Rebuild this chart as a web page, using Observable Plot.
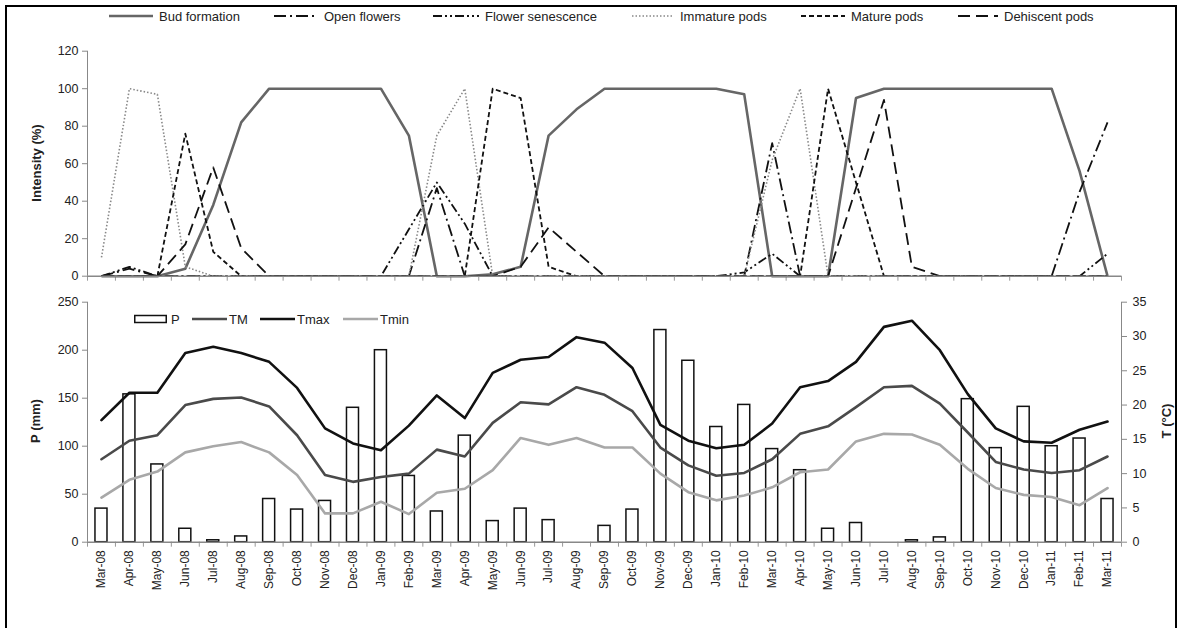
<!DOCTYPE html>
<html>
<head>
<meta charset="utf-8">
<script src="https://cdn.jsdelivr.net/npm/d3@7"></script>
<script src="https://cdn.jsdelivr.net/npm/@observablehq/plot@0.6"></script>
<style>
  html, body { margin: 0; padding: 0; background: #fff; }
  #wrap { position: relative; width: 1182px; height: 628px; overflow: hidden; font-family: "Liberation Sans", Arial, sans-serif; color: #222; }
  #frame { position: absolute; left: 5px; top: 5px; width: 1172px; height: 640px; border: 2px solid #000; box-sizing: border-box; }
  .abs { position: absolute; }
  .ytitle { position: absolute; font-weight: bold; font-size: 13px; white-space: nowrap; transform: translate(-50%, -50%) rotate(-90deg); }
  .leg { position: absolute; display: flex; align-items: center; font-size: 13px; white-space: nowrap; }
  svg { overflow: visible; }
</style>
</head>
<body>
<div id="wrap">
  <div id="frame"></div>
</div>
<script>
// ---------- data ----------
const months = ["Mar-08","Apr-08","May-08","Jun-08","Jul-08","Aug-08","Sep-08","Oct-08","Nov-08","Dec-08","Jan-09","Feb-09","Mar-09","Apr-09","May-09","Jun-09","Jul-09","Aug-09","Sep-09","Oct-09","Nov-09","Dec-09","Jan-10","Feb-10","Mar-10","Apr-10","May-10","Jun-10","Jul-10","Aug-10","Sep-10","Oct-10","Nov-10","Dec-10","Jan-11","Feb-11","Mar-11"];

// Phenology intensity (%)
const budFormation      = [0,0,0,4,38,82,100,100,100,100,100,75,0,0,1,5,75,89,100,100,100,100,100,97,0,0,0,95,100,100,100,100,100,100,100,56,0];
const openFlowers       = [0,4,0,0,0,0,0,0,0,0,0,0,47,0,0,0,0,0,0,0,0,0,0,0,71,0,0,0,0,0,0,0,0,0,0,45,82];
const flowerSenescence  = [0,5,0,0,0,0,0,0,0,0,0,25,50,28,0,0,0,0,0,0,0,0,0,2,12,0,0,0,0,0,0,0,0,0,0,0,12];
const immaturePods      = [10,100,97,5,0,0,0,0,0,0,0,0,75,100,0,0,0,0,0,0,0,0,0,0,62,100,0,0,0,0,0,0,0,0,0,0,0];
const maturePods        = [0,0,0,76,13,0,0,0,0,0,0,0,0,0,100,95,5,0,0,0,0,0,0,0,0,0,100,50,0,0,0,0,0,0,0,0,0];
const dehiscentPods     = [0,0,0,17,58,15,0,0,0,0,0,0,0,0,0,5,26,13,0,0,0,0,0,0,0,0,0,47,94,5,0,0,0,0,0,0,0];

// Climate
const precip = [35,154,81,14,2,6,45,34,43,140,200,69,32,111,22,35,23,0,17,34,221,189,120,143,97,75,14,20,0,2,5,149,98,141,100,108,45];
const tMean  = [12.1,14.8,15.6,20.0,20.9,21.1,19.8,15.6,9.8,8.8,9.5,10.0,13.5,12.5,17.4,20.4,20.1,22.6,21.5,19.1,13.8,11.2,9.7,10.1,12.1,15.8,16.9,19.7,22.6,22.8,20.2,16.0,11.7,10.6,10.1,10.5,12.5];
const tMax   = [17.8,21.8,21.8,27.6,28.5,27.6,26.3,22.5,16.6,14.4,13.4,17.0,21.4,18.1,24.7,26.6,27.0,29.9,29.1,25.4,17.1,14.8,13.7,14.2,17.3,22.6,23.5,26.3,31.4,32.3,28.0,21.6,16.6,14.7,14.5,16.4,17.6];
const tMin   = [6.5,9.1,10.3,13.1,14.0,14.6,13.1,9.8,4.2,4.2,5.9,4.1,7.2,7.8,10.5,15.2,14.2,15.2,13.8,13.8,10.0,7.3,6.1,6.8,8.0,10.2,10.6,14.7,15.8,15.7,14.2,10.7,7.9,6.9,6.6,5.4,7.9];

const intensityTicks = [0,20,40,60,80,100,120];
const pTicks = [0,50,100,150,200,250];
const tTicks = [0,5,10,15,20,25,30,35];

// ---------- styles ----------
const phen = [
  {name: "Bud formation",     data: budFormation,     stroke: "#666", width: 2.6, dash: null},
  {name: "Open flowers",      data: openFlowers,      stroke: "#111", width: 1.8, dash: "12,4,2,4"},
  {name: "Flower senescence", data: flowerSenescence, stroke: "#111", width: 1.8, dash: "9,3,2,3,2,3"},
  {name: "Immature pods",     data: immaturePods,     stroke: "#888", width: 1.6, dash: "1.5,2"},
  {name: "Mature pods",       data: maturePods,       stroke: "#111", width: 1.8, dash: "5,3"},
  {name: "Dehiscent pods",    data: dehiscentPods,    stroke: "#111", width: 1.8, dash: "12,6"}
];
const temps = [
  {name: "TM",   data: tMean, stroke: "#4a4a4a"},
  {name: "Tmax", data: tMax,  stroke: "#111"},
  {name: "Tmin", data: tMin,  stroke: "#a8a8a8"}
];

const n = months.length;
const idx = d3.range(n);
const bounds = d3.range(n + 1).map(i => i - 0.5);
const font = {fontFamily: "'Liberation Sans', Arial, sans-serif", fontSize: "12px", color: "#222", background: "transparent"};
const pToT = 250 / 35;

// ---------- top panel ----------
const topPlot = Plot.plot({
  width: 1182, height: 290,
  marginLeft: 87, marginRight: 61, marginTop: 50.7, marginBottom: 14.3,
  x: {domain: [-0.5, n - 0.5], axis: null},
  y: {domain: [0, 120], axis: null},
  style: font,
  marks: [
    Plot.axisY({ticks: intensityTicks, tickSize: 5, tickPadding: 4, stroke: "#888", fill: "#222", fontSize: 12.5}),
    Plot.axisX({ticks: bounds, tickSize: 5, tickFormat: () => "", stroke: "#999"}),
    Plot.ruleX([-0.5], {stroke: "#888"}),
    ...phen.map(s => Plot.line(s.data, {x: (d, i) => i, y: d => d, stroke: s.stroke, strokeWidth: s.width, strokeDasharray: s.dash, strokeLinejoin: "round", strokeLinecap: "butt"})),
    Plot.ruleY([0], {stroke: "#888", strokeWidth: 1.5})
  ]
});
topPlot.classList.add("abs");
topPlot.style.left = "0px"; topPlot.style.top = "0px";

// ---------- bottom panel ----------
const botPlot = Plot.plot({
  width: 1182, height: 338,
  marginLeft: 87, marginRight: 61, marginTop: 11.7, marginBottom: 86.3,
  x: {domain: [-0.5, n - 0.5], axis: null},
  y: {domain: [0, 250], axis: null},
  style: font,
  marks: [
    Plot.rect(precip, {x1: (d, i) => i - 0.215, x2: (d, i) => i + 0.215, y1: 0, y2: d => d, fill: "white", stroke: "#111", strokeWidth: 1.5}),
    ...temps.map(s => Plot.line(s.data, {x: (d, i) => i, y: d => d * pToT, stroke: s.stroke, strokeWidth: 2.6, strokeLinejoin: "round"})),
    Plot.axisY({ticks: pTicks, tickSize: 5, tickPadding: 4, stroke: "#888", fill: "#222", fontSize: 12.5}),
    Plot.axisY({anchor: "right", ticks: tTicks.map(t => t * pToT), tickFormat: d => Math.round(d / pToT), tickSize: 5, tickPadding: 6, stroke: "#888", fill: "#222", fontSize: 12.5}),
    Plot.axisX({ticks: bounds, tickSize: 5, tickFormat: () => "", stroke: "#999"}),
    Plot.axisX({ticks: idx, tickSize: 0, tickPadding: 8, tickRotate: -90, tickFormat: i => months[i], fill: "#222", fontSize: 12}),
    Plot.ruleX([-0.5, n - 0.5], {stroke: "#888"}),
    Plot.ruleY([0], {stroke: "#888", strokeWidth: 1.5})
  ]
});
botPlot.classList.add("abs");
botPlot.style.left = "0px"; botPlot.style.top = "290px";

const wrap = document.getElementById("wrap");
wrap.appendChild(topPlot);
wrap.appendChild(botPlot);

// ---------- axis titles ----------
function title(text, x, y) {
  const d = document.createElement("div");
  d.className = "ytitle"; d.textContent = text;
  d.style.left = x + "px"; d.style.top = y + "px";
  wrap.appendChild(d);
}
title("Intensity (%)", 36, 163);
title("P (mm)", 35, 421);
title("T (°C)", 1166, 421);

// ---------- top legend ----------
const legTop = [
  {x: 109, w: 44},
  {x: 274, w: 44},
  {x: 433, w: 46},
  {x: 632, w: 42},
  {x: 801, w: 44},
  {x: 958, w: 40}
];
phen.forEach((s, k) => {
  const item = document.createElement("div");
  item.className = "leg";
  item.style.left = legTop[k].x + "px"; item.style.top = "7px"; item.style.height = "18px";
  const w = legTop[k].w;
  item.innerHTML = `<svg width="${w}" height="10"><line x1="0" y1="5" x2="${w}" y2="5" stroke="${s.stroke}" stroke-width="${s.width}" ${s.dash ? `stroke-dasharray="${s.dash}"` : ""}/></svg><span style="margin-left:6px">${s.name}</span>`;
  wrap.appendChild(item);
});

// ---------- bottom legend ----------
function legItem(x, sampleHtml, label, gap) {
  const item = document.createElement("div");
  item.className = "leg";
  item.style.left = x + "px"; item.style.top = "310px"; item.style.height = "18px";
  item.innerHTML = sampleHtml + `<span style="margin-left:${gap}px">${label}</span>`;
  wrap.appendChild(item);
}
legItem(134, `<svg width="33" height="10"><rect x="0.75" y="1.5" width="31.5" height="7" fill="white" stroke="#111" stroke-width="1.5"/></svg>`, "P", 4);
const botLeg = [{x: 192, w: 35}, {x: 260, w: 35}, {x: 343, w: 35}];
temps.forEach((s, k) => {
  legItem(botLeg[k].x, `<svg width="${botLeg[k].w}" height="10"><line x1="0" y1="5" x2="${botLeg[k].w}" y2="5" stroke="${s.stroke}" stroke-width="2.6"/></svg>`, s.name, 2);
});
</script>
</body>
</html>
